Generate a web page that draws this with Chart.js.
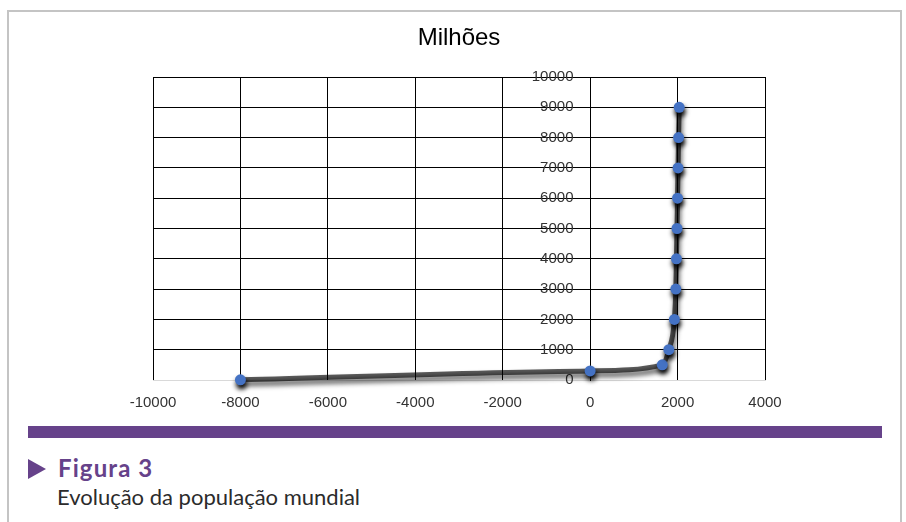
<!DOCTYPE html>
<html>
<head>
<meta charset="utf-8">
<script src="https://cdn.jsdelivr.net/npm/chart.js@4/dist/chart.umd.min.js"></script>
<style>
  html, body { margin: 0; padding: 0; background: #fff; }
  body { width: 906px; height: 522px; position: relative; overflow: hidden; }
  .frame { position: absolute; left: 7px; top: 10px; width: 891px; height: 600px;
           border-left: 2px solid #c4c4c4; border-top: 2px solid #c4c4c4; border-right: 2px solid #c4c4c4; }
  .chartbox { position: absolute; left: 96px; top: 15px; width: 720px; height: 400px; }
  .bar { position: absolute; left: 28px; top: 426px; width: 854px; height: 12px; background: #66428a; }
  .tri { position: absolute; left: 28px; top: 459px; width: 0; height: 0;
         border-top: 10.5px solid transparent; border-bottom: 10.5px solid transparent; border-left: 18px solid #66428a; }
  .fig { position: absolute; left: 58px; top: 454px; font-family: Lato, sans-serif; font-weight: 700;
         font-size: 24px; color: #66428a; letter-spacing: 1.1px; line-height: 28px; }
  .cap { position: absolute; left: 57px; top: 483px; font-family: Lato, sans-serif;
         font-size: 22px; color: #2b2b2b; letter-spacing: 0px; line-height: 28px; }
</style>
</head>
<body>
<div class="frame"></div>
<div class="chartbox"><canvas id="c" width="720" height="400"></canvas></div>
<div class="bar"></div>
<div class="tri"></div>
<div class="fig">Figura 3</div>
<div class="cap">Evolução da população mundial</div>
<script>
// World population (millions) by year
const years = [-8000, 0, 1650, 1800, 1927, 1960, 1974, 1987, 1999, 2011, 2023, 2037];
const population = [5, 300, 500, 1000, 2000, 3000, 4000, 5000, 6000, 7000, 8000, 9000];
const xTicks = [-10000, -8000, -6000, -4000, -2000, 0, 2000, 4000];
const chartTitle = 'Milhões';

const points = years.map((y, i) => ({ x: y, y: population[i] }));

// drop shadow under the series (line + markers)
const shadowPlugin = {
  id: 'seriesShadow',
  beforeDatasetsDraw(chart) {
    const ctx = chart.ctx;
    ctx.save();
    ctx.shadowColor = 'rgba(0,0,0,1)';
    ctx.shadowBlur = 5;
    ctx.shadowOffsetX = 1;
    ctx.shadowOffsetY = 4;
  },
  afterDatasetsDraw(chart) {
    chart.ctx.restore();
  }
};

const tickFont = { family: 'Liberation Sans', size: 15 };
const plain = (v) => String(v);
// y labels sit left of the axis drawn at x = 0; keep a small gap from the line
const yLabel = (v) => String(v) + '    ';

new Chart(document.getElementById('c'), {
  type: 'line',
  data: {
    datasets: [{
      data: points,
      borderColor: 'rgba(0,0,0,0.64)',
      borderWidth: 5,
      cubicInterpolationMode: 'monotone',
      pointRadius: 5.5,
      pointBackgroundColor: '#4472c4',
      pointBorderColor: '#4472c4',
      pointBorderWidth: 0,
      clip: false
    }]
  },
  options: {
    responsive: false,
    animation: false,
    layout: { padding: { left: 57, right: 51, top: 0, bottom: 0 } },
    plugins: {
      legend: { display: false },
      tooltip: { enabled: false },
      title: {
        display: true,
        text: chartTitle,
        color: '#000',
        font: { family: 'Liberation Sans', size: 24, weight: 'normal' },
        padding: { top: 9, bottom: 24.2 }
      }
    },
    scales: {
      x: {
        type: 'linear',
        min: -10000, max: 4000,
        afterBuildTicks(scale) { scale.ticks = xTicks.map(v => ({ value: v })); },
        afterFit(scale) { scale.height = 35; },
        grid: { color: '#000', lineWidth: 1, drawTicks: false },
        border: { color: '#d9d9d9', width: 1 },
        ticks: { color: '#333', font: tickFont, padding: 14, maxRotation: 0, callback: plain }
      },
      y: {
        type: 'linear',
        position: { x: 0 },
        min: 0, max: 10000,
        grid: {
          drawTicks: false,
          lineWidth: 1,
          color: (c) => (c.tick && c.tick.value === 0 ? '#d9d9d9' : '#000')
        },
        border: { color: '#000', width: 1 },
        ticks: { stepSize: 1000, color: '#333', font: tickFont, callback: yLabel }
      }
    }
  },
  plugins: [shadowPlugin]
});
</script>
</body>
</html>
